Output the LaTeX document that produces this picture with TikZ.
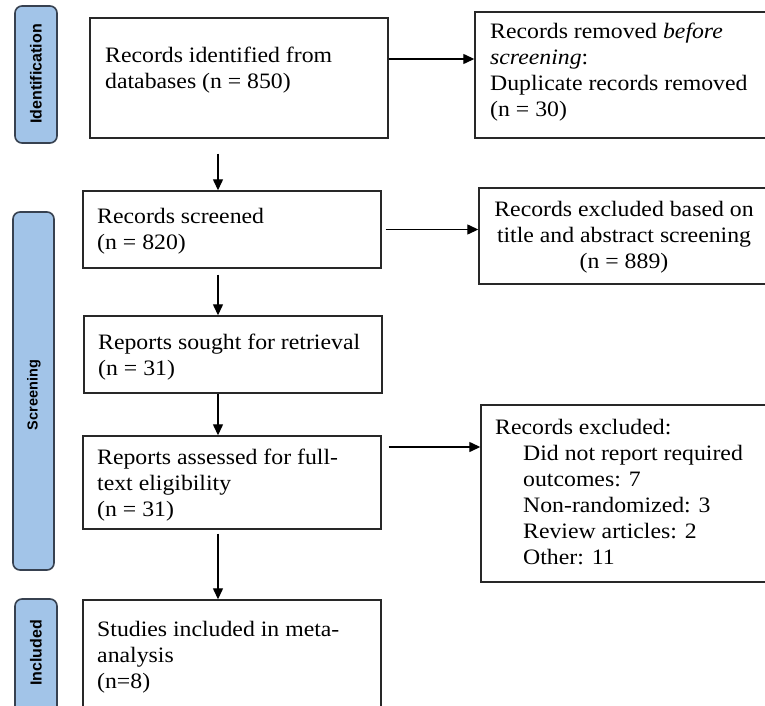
\documentclass[tikz,border=0pt]{standalone}
\usepackage{fontspec}
\setmainfont[FakeStretch=1.08]{Liberation Serif}
\newfontfamily\labfont{Liberation Sans}
\usetikzlibrary{arrows.meta,calc}
\definecolor{barfill}{RGB}{162,196,232}
\definecolor{bardraw}{RGB}{55,65,80}
\definecolor{boxdraw}{RGB}{40,40,40}
\tikzset{
  boxnode/.style={draw=boxdraw,line width=1.4pt,inner sep=0pt},
  txt/.style={anchor=base west,inner sep=0pt,align=left,font=\fontsize{22}{26}\selectfont},
  barnode/.style={draw=bardraw,fill=barfill,line width=1.6pt,rounded corners=7pt},
  barlab/.style={rotate=90,inner sep=0pt,font=\labfont\bfseries\fontsize{16}{18}\selectfont},
  arr/.style={line width=1.3pt,draw=black,-{Triangle[length=11pt,width=10pt]}}
}
\begin{document}
\begin{tikzpicture}[x=1pt,y=-1pt]
\useasboundingbox (0,0) rectangle (765,706);
\clip (0,0) rectangle (765,706);
% side bars
\draw[barnode] (15,6) rectangle (57,143);
\node[barlab] (lid) at (36,74) {Identification};
\draw[barnode] (13,212) rectangle (54,570);
\node[barlab,font=\labfont\bfseries\fontsize{14.5}{17}\selectfont] (lsc) at (34,395) {Screening};
\draw[barnode] (15,599) rectangle (57,730);
\node[barlab] (lin) at (36,653) {Included};
% boxes
\node[boxnode,minimum width=298pt,minimum height=120pt] (b1) at (239,78) {};
\node[boxnode,minimum width=298pt,minimum height=77pt] (b2) at (232,229.5) {};
\node[boxnode,minimum width=298pt,minimum height=77pt] (b3) at (233,354.5) {};
\node[boxnode,minimum width=298pt,minimum height=93pt] (b4) at (232,482.5) {};
\node[boxnode,minimum width=298pt,minimum height=140pt] (b5) at (232,670) {};
\node[boxnode,minimum width=320pt,minimum height=126pt] (bA) at (635,75) {};
\node[boxnode,minimum width=320pt,minimum height=96pt] (bB) at (639,236) {};
\node[boxnode,minimum width=320pt,minimum height=177pt] (bC) at (641,493.5) {};
% texts (anchored at the baseline of the last line)
\node[txt] (t1) at (105,89) {Records identified from\\databases (n = 850)};
\node[txt] (t2) at (97,249) {Records screened\\(n = 820)};
\node[txt] (t3) at (98,375) {Reports sought for retrieval\\(n = 31)};
\node[txt] (t4) at (97,516) {Reports assessed for full-\\text eligibility\\(n = 31)};
\node[txt] (t5) at (97,688) {Studies included in meta-\\analysis\\(n=8)};
\node[txt] (tA) at (490,117) {Records removed \textit{before}\\\textit{screening}:\\Duplicate records removed\\(n = 30)};
\node[txt,anchor=base,align=center] (tB) at (624,268) {Records excluded based on\\title and abstract screening\\(n = 889)};
\node[txt] (tC) at (495,564) {Records excluded:\\\hspace*{28pt}Did not report required\\\hspace*{28pt}outcomes: 7\\\hspace*{28pt}Non-randomized: 3\\\hspace*{28pt}Review articles: 2\\\hspace*{28pt}Other: 11};
% arrows
\coordinate (ax) at (218,0);
\coordinate (ay1) at (0,59);
\coordinate (ay4) at (0,447);
\draw[arr,shorten <=15pt] (b1.south -| ax) -- (b2.north -| ax);
\draw[arr,shorten <=6pt] (b2.south -| ax) -- (b3.north -| ax);
\draw[arr] (b3.south -| ax) -- (b4.north -| ax);
\draw[arr,shorten <=4pt] (b4.south -| ax) -- (b5.north -| ax);
\draw[arr] (b1.east |- ay1) -- (bA.west |- ay1);
\draw[arr,shorten <=4pt] (b2.east) -- (bB.west |- b2.east);
\draw[arr,shorten <=7pt] (b4.east |- ay4) -- (bC.west |- ay4);
\end{tikzpicture}
\end{document}
